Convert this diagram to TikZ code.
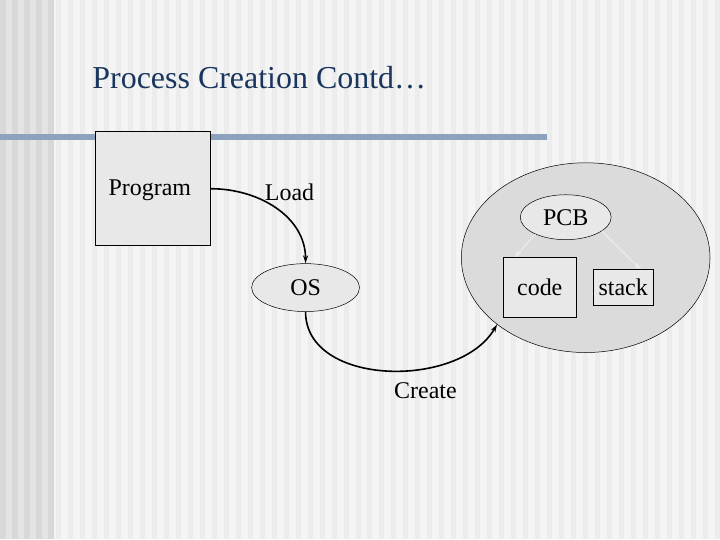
\documentclass[tikz,border=0pt]{standalone}
\usepackage{fontspec}
\setmainfont{Liberation Serif}
\usetikzlibrary{shapes.geometric,arrows.meta}
\definecolor{Paper}{HTML}{F4F4F4}
\definecolor{Stripe}{HTML}{ECECEC}
\definecolor{Edge}{HTML}{E4E4E4}
\definecolor{EdgeDark}{HTML}{D8D8D8}
\definecolor{Rule}{HTML}{8DA3BD}
\definecolor{Title}{HTML}{1B365D}
\definecolor{BoxFill}{HTML}{E8E8E8}
\definecolor{ProcFill}{HTML}{DBDBDB}
\definecolor{Pale}{HTML}{EDEDED}

\tikzset{
  every node/.style={font=\fontsize{24}{28}\selectfont},
  box/.style={draw,line width=0.8pt,fill=BoxFill,inner sep=0pt},
  oval/.style={draw,ellipse,line width=0.5pt,fill=BoxFill,inner sep=0pt},
  flow/.style={line width=1.6pt,-{Stealth[length=8pt,width=5pt]}},
  link/.style={line width=1pt,Pale,-{Stealth[length=7pt,width=5pt]}}
}

\begin{document}
\begin{tikzpicture}[x=1pt,y=1pt]
    % slide background
    \fill[Paper] (0,0) rectangle (720,-540);
    \foreach \x in {56,68,...,716}
      \fill[Stripe] (\x,0) rectangle ++(5,-540);
    \fill[Edge] (0,0) rectangle (54,-540);
    \foreach \x in {0,12,...,48}
      \fill[EdgeDark] (\x,0) rectangle ++(6,-540);
    \useasboundingbox (0,0) rectangle (720,-540);

    \node[anchor=base west,text=Title,font=\fontsize{32}{38}\selectfont] (title) at (89,-89) {Process Creation Contd…};
    \fill[Rule] (0,-134) rectangle (548,-140);

    \node[box,minimum width=115pt,minimum height=114pt] (prog) at (153.5,-189) {};
    \node (progtxt) at (150,-191) {Program};
    \node[oval,minimum width=108pt,minimum height=48pt] (os) at (306,-288) {OS};

    % process
    \node[oval,fill=ProcFill,minimum width=249pt,minimum height=190pt] (proc) at (586.5,-258) {};
    \node[oval,minimum width=91pt,minimum height=45pt] (pcb) at (566.5,-217.5) {PCB};
    \node[box,minimum width=73pt,minimum height=60pt] (code) at (540.5,-288) {code};
    \node[box,minimum width=60pt,minimum height=36pt] (stack) at (624,-288) {stack};
    \draw[link] (pcb.209) -- ([xshift=12pt]code.north west);
    \draw[link] (pcb.-21) -- ([xshift=-13pt]stack.north east);

    \draw[flow] (prog.east) to[out=0,in=90] (os.north);
    \draw[flow] (os.south) to[out=-90,in=-120] (proc.217);
    \node (load) at (290,-193) {Load};
    \node (create) at (426,-391) {Create};
\end{tikzpicture}
\end{document}
